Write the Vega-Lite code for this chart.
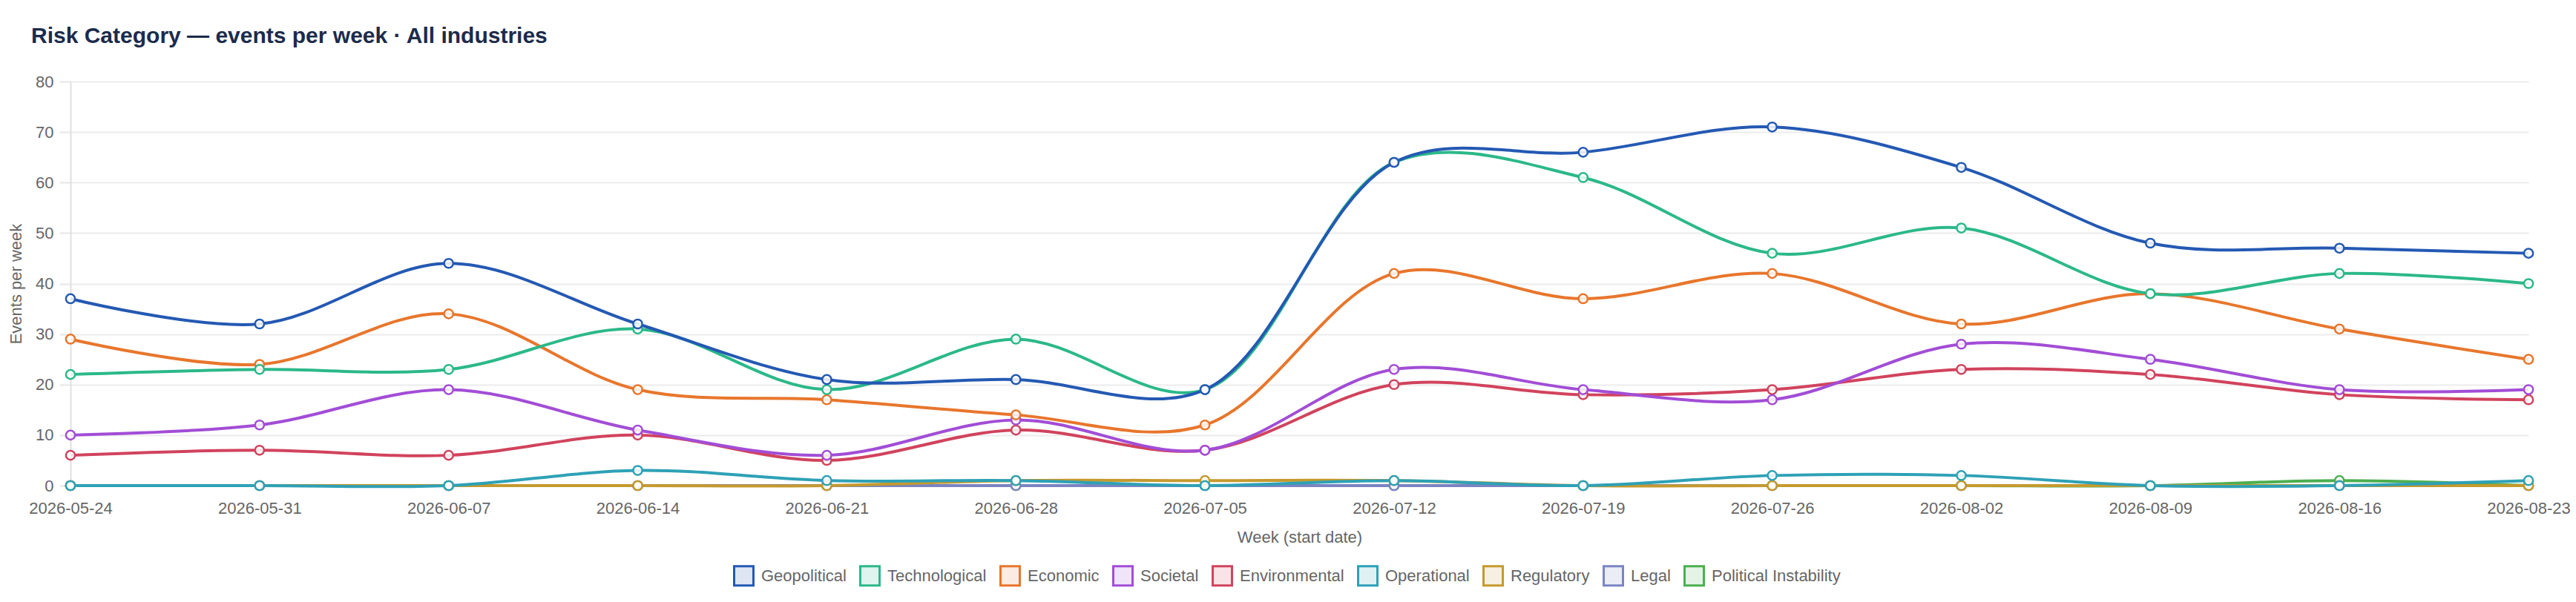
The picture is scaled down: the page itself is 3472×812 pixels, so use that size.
{
  "$schema": "https://vega.github.io/schema/vega-lite/v6.json",
  "autosize": {"type": "none"},
  "width": 3313,
  "height": 545,
  "padding": {"left": 95, "top": 110, "right": 64, "bottom": 157},
  "background": "white",
  "title": {
    "text": "Risk Category — events per week · All industries",
    "anchor": "start",
    "frame": "group",
    "dx": -53,
    "offset": 11,
    "baseline": "alphabetic",
    "font": "Liberation Sans",
    "fontSize": 30,
    "fontWeight": "bold",
    "color": "#1c2b4b"
  },
  "config": {
    "view": {"stroke": null},
    "font": "Liberation Sans"
  },
  "data": {
    "values": [
      {"w": "2026-05-24", "c": "Political Instability", "v": 0},
      {"w": "2026-05-31", "c": "Political Instability", "v": 0},
      {"w": "2026-06-07", "c": "Political Instability", "v": 0},
      {"w": "2026-06-14", "c": "Political Instability", "v": 0},
      {"w": "2026-06-21", "c": "Political Instability", "v": 0},
      {"w": "2026-06-28", "c": "Political Instability", "v": 0},
      {"w": "2026-07-05", "c": "Political Instability", "v": 0},
      {"w": "2026-07-12", "c": "Political Instability", "v": 0},
      {"w": "2026-07-19", "c": "Political Instability", "v": 0},
      {"w": "2026-07-26", "c": "Political Instability", "v": 0},
      {"w": "2026-08-02", "c": "Political Instability", "v": 0},
      {"w": "2026-08-09", "c": "Political Instability", "v": 0},
      {"w": "2026-08-16", "c": "Political Instability", "v": 1},
      {"w": "2026-08-23", "c": "Political Instability", "v": 0},
      {"w": "2026-05-24", "c": "Legal", "v": 0},
      {"w": "2026-05-31", "c": "Legal", "v": 0},
      {"w": "2026-06-07", "c": "Legal", "v": 0},
      {"w": "2026-06-14", "c": "Legal", "v": 0},
      {"w": "2026-06-21", "c": "Legal", "v": 0},
      {"w": "2026-06-28", "c": "Legal", "v": 0},
      {"w": "2026-07-05", "c": "Legal", "v": 0},
      {"w": "2026-07-12", "c": "Legal", "v": 0},
      {"w": "2026-07-19", "c": "Legal", "v": 0},
      {"w": "2026-07-26", "c": "Legal", "v": 0},
      {"w": "2026-08-02", "c": "Legal", "v": 0},
      {"w": "2026-08-09", "c": "Legal", "v": 0},
      {"w": "2026-08-16", "c": "Legal", "v": 0},
      {"w": "2026-08-23", "c": "Legal", "v": 0},
      {"w": "2026-05-24", "c": "Regulatory", "v": 0},
      {"w": "2026-05-31", "c": "Regulatory", "v": 0},
      {"w": "2026-06-07", "c": "Regulatory", "v": 0},
      {"w": "2026-06-14", "c": "Regulatory", "v": 0},
      {"w": "2026-06-21", "c": "Regulatory", "v": 0},
      {"w": "2026-06-28", "c": "Regulatory", "v": 1},
      {"w": "2026-07-05", "c": "Regulatory", "v": 1},
      {"w": "2026-07-12", "c": "Regulatory", "v": 1},
      {"w": "2026-07-19", "c": "Regulatory", "v": 0},
      {"w": "2026-07-26", "c": "Regulatory", "v": 0},
      {"w": "2026-08-02", "c": "Regulatory", "v": 0},
      {"w": "2026-08-09", "c": "Regulatory", "v": 0},
      {"w": "2026-08-16", "c": "Regulatory", "v": 0},
      {"w": "2026-08-23", "c": "Regulatory", "v": 0},
      {"w": "2026-05-24", "c": "Operational", "v": 0},
      {"w": "2026-05-31", "c": "Operational", "v": 0},
      {"w": "2026-06-07", "c": "Operational", "v": 0},
      {"w": "2026-06-14", "c": "Operational", "v": 3},
      {"w": "2026-06-21", "c": "Operational", "v": 1},
      {"w": "2026-06-28", "c": "Operational", "v": 1},
      {"w": "2026-07-05", "c": "Operational", "v": 0},
      {"w": "2026-07-12", "c": "Operational", "v": 1},
      {"w": "2026-07-19", "c": "Operational", "v": 0},
      {"w": "2026-07-26", "c": "Operational", "v": 2},
      {"w": "2026-08-02", "c": "Operational", "v": 2},
      {"w": "2026-08-09", "c": "Operational", "v": 0},
      {"w": "2026-08-16", "c": "Operational", "v": 0},
      {"w": "2026-08-23", "c": "Operational", "v": 1},
      {"w": "2026-05-24", "c": "Environmental", "v": 6},
      {"w": "2026-05-31", "c": "Environmental", "v": 7},
      {"w": "2026-06-07", "c": "Environmental", "v": 6},
      {"w": "2026-06-14", "c": "Environmental", "v": 10},
      {"w": "2026-06-21", "c": "Environmental", "v": 5},
      {"w": "2026-06-28", "c": "Environmental", "v": 11},
      {"w": "2026-07-05", "c": "Environmental", "v": 7},
      {"w": "2026-07-12", "c": "Environmental", "v": 20},
      {"w": "2026-07-19", "c": "Environmental", "v": 18},
      {"w": "2026-07-26", "c": "Environmental", "v": 19},
      {"w": "2026-08-02", "c": "Environmental", "v": 23},
      {"w": "2026-08-09", "c": "Environmental", "v": 22},
      {"w": "2026-08-16", "c": "Environmental", "v": 18},
      {"w": "2026-08-23", "c": "Environmental", "v": 17},
      {"w": "2026-05-24", "c": "Societal", "v": 10},
      {"w": "2026-05-31", "c": "Societal", "v": 12},
      {"w": "2026-06-07", "c": "Societal", "v": 19},
      {"w": "2026-06-14", "c": "Societal", "v": 11},
      {"w": "2026-06-21", "c": "Societal", "v": 6},
      {"w": "2026-06-28", "c": "Societal", "v": 13},
      {"w": "2026-07-05", "c": "Societal", "v": 7},
      {"w": "2026-07-12", "c": "Societal", "v": 23},
      {"w": "2026-07-19", "c": "Societal", "v": 19},
      {"w": "2026-07-26", "c": "Societal", "v": 17},
      {"w": "2026-08-02", "c": "Societal", "v": 28},
      {"w": "2026-08-09", "c": "Societal", "v": 25},
      {"w": "2026-08-16", "c": "Societal", "v": 19},
      {"w": "2026-08-23", "c": "Societal", "v": 19},
      {"w": "2026-05-24", "c": "Economic", "v": 29},
      {"w": "2026-05-31", "c": "Economic", "v": 24},
      {"w": "2026-06-07", "c": "Economic", "v": 34},
      {"w": "2026-06-14", "c": "Economic", "v": 19},
      {"w": "2026-06-21", "c": "Economic", "v": 17},
      {"w": "2026-06-28", "c": "Economic", "v": 14},
      {"w": "2026-07-05", "c": "Economic", "v": 12},
      {"w": "2026-07-12", "c": "Economic", "v": 42},
      {"w": "2026-07-19", "c": "Economic", "v": 37},
      {"w": "2026-07-26", "c": "Economic", "v": 42},
      {"w": "2026-08-02", "c": "Economic", "v": 32},
      {"w": "2026-08-09", "c": "Economic", "v": 38},
      {"w": "2026-08-16", "c": "Economic", "v": 31},
      {"w": "2026-08-23", "c": "Economic", "v": 25},
      {"w": "2026-05-24", "c": "Technological", "v": 22},
      {"w": "2026-05-31", "c": "Technological", "v": 23},
      {"w": "2026-06-07", "c": "Technological", "v": 23},
      {"w": "2026-06-14", "c": "Technological", "v": 31},
      {"w": "2026-06-21", "c": "Technological", "v": 19},
      {"w": "2026-06-28", "c": "Technological", "v": 29},
      {"w": "2026-07-05", "c": "Technological", "v": 19},
      {"w": "2026-07-12", "c": "Technological", "v": 64},
      {"w": "2026-07-19", "c": "Technological", "v": 61},
      {"w": "2026-07-26", "c": "Technological", "v": 46},
      {"w": "2026-08-02", "c": "Technological", "v": 51},
      {"w": "2026-08-09", "c": "Technological", "v": 38},
      {"w": "2026-08-16", "c": "Technological", "v": 42},
      {"w": "2026-08-23", "c": "Technological", "v": 40},
      {"w": "2026-05-24", "c": "Geopolitical", "v": 37},
      {"w": "2026-05-31", "c": "Geopolitical", "v": 32},
      {"w": "2026-06-07", "c": "Geopolitical", "v": 44},
      {"w": "2026-06-14", "c": "Geopolitical", "v": 32},
      {"w": "2026-06-21", "c": "Geopolitical", "v": 21},
      {"w": "2026-06-28", "c": "Geopolitical", "v": 21},
      {"w": "2026-07-05", "c": "Geopolitical", "v": 19},
      {"w": "2026-07-12", "c": "Geopolitical", "v": 64},
      {"w": "2026-07-19", "c": "Geopolitical", "v": 66},
      {"w": "2026-07-26", "c": "Geopolitical", "v": 71},
      {"w": "2026-08-02", "c": "Geopolitical", "v": 63},
      {"w": "2026-08-09", "c": "Geopolitical", "v": 48},
      {"w": "2026-08-16", "c": "Geopolitical", "v": 47},
      {"w": "2026-08-23", "c": "Geopolitical", "v": 46}
    ]
  },
  "encoding": {
    "x": {
      "field": "w",
      "type": "ordinal",
      "scale": {"type": "point", "padding": 0},
      "axis": {
        "title": "Week (start date)",
        "labelAngle": 0,
        "ticks": false,
        "domain": false,
        "grid": false,
        "labelPadding": 20,
        "labelFontSize": 22,
        "labelColor": "#666666",
        "labelFont": "Liberation Sans",
        "titleFontSize": 22,
        "titleFontWeight": "normal",
        "titleColor": "#666666",
        "titleFont": "Liberation Sans",
        "titlePadding": 18
      }
    },
    "y": {
      "field": "v",
      "type": "quantitative",
      "scale": {"domain": [0, 80], "nice": false},
      "axis": {
        "title": "Events per week",
        "values": [0, 10, 20, 30, 40, 50, 60, 70, 80],
        "labelFontSize": 22,
        "labelColor": "#666666",
        "labelFont": "Liberation Sans",
        "labelPadding": 8,
        "tickSize": 15,
        "tickColor": "#e6e6e6",
        "tickWidth": 2,
        "gridColor": "#ececec",
        "gridWidth": 2,
        "domainColor": "#e0e0e0",
        "domainWidth": 2,
        "titleFontSize": 22,
        "titleFontWeight": "normal",
        "titleColor": "#666666",
        "titleFont": "Liberation Sans",
        "titlePadding": 14
      }
    },
    "color": {
      "field": "c",
      "type": "nominal",
      "scale": {
        "domain": ["Geopolitical", "Technological", "Economic", "Societal", "Environmental", "Operational", "Regulatory", "Legal", "Political Instability"],
        "range": ["#2459b3", "#2bb88a", "#e8762c", "#a24dd6", "#d1435d", "#2ea1b6", "#c59a2e", "#7b84c2", "#4caf50"]
      },
      "legend": {
        "title": null,
        "orient": "none",
        "legendX": 893,
        "legendY": 652,
        "direction": "horizontal",
        "symbolType": "square",
        "symbolSize": 676,
        "symbolStrokeWidth": 3,
        "labelFontSize": 22,
        "labelColor": "#666666",
        "labelFont": "Liberation Sans",
        "labelLimit": 0,
        "labelOffset": 9,
        "columnPadding": 12,
        "encode": {
          "symbols": {
            "update": {
              "fill": {"scale": "color", "field": "value"},
              "fillOpacity": {"value": 0.15},
              "stroke": {"scale": "color", "field": "value"},
              "strokeWidth": {"value": 3},
              "opacity": {"value": 1}
            }
          }
        }
      }
    }
  },
  "layer": [
    {
      "mark": {"type": "line", "interpolate": "catmull-rom", "strokeWidth": 4}
    },
    {
      "mark": {"type": "point", "shape": "circle", "filled": false, "fill": "#ffffff", "fillOpacity": 0.85, "size": 150, "strokeWidth": 2.5, "opacity": 1}
    }
  ]
}
